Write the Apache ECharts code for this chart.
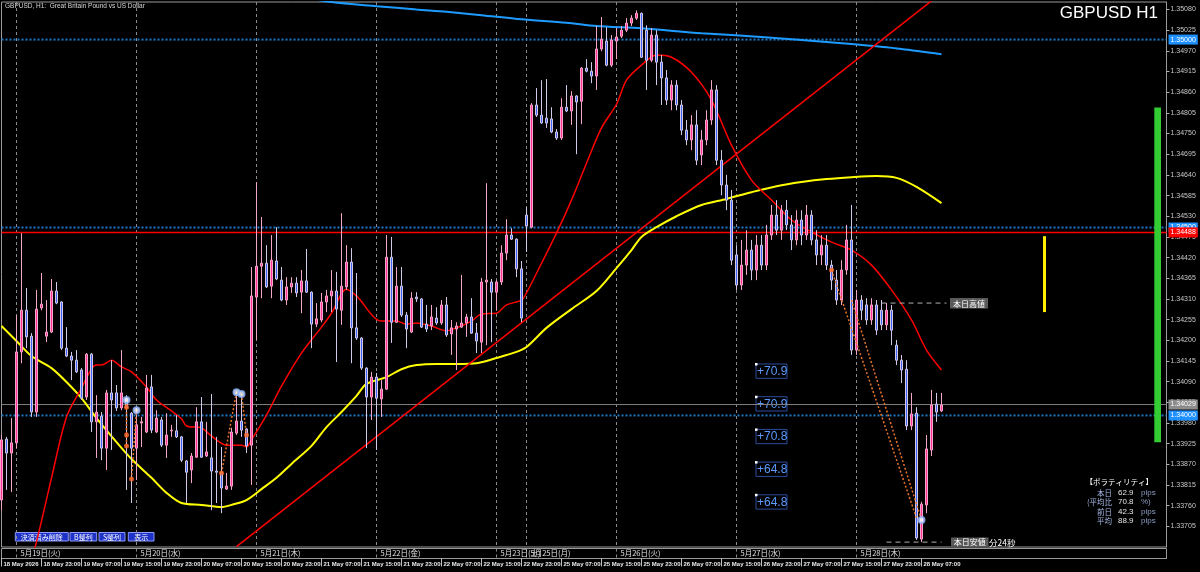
<!DOCTYPE html>
<html>
<head>
<meta charset="utf-8">
<title>GBPUSD H1</title>
<script src="https://cdn.jsdelivr.net/npm/echarts@6/dist/echarts.min.js"></script>
<style>
  html, body { margin: 0; padding: 0; background: #000; }
  #chart { width: 1200px; height: 572px; }
</style>
</head>
<body>
<div id="chart"></div>
<script>
// H1 bars from 18 May 15:00 to 28 May 11:00, each row: open, close, low, high
var candles = [
  [1.33775,1.33935,1.33748,1.33948],[1.33937,1.33900,1.33802,1.33943],[1.33900,1.33927,1.33796,1.33993],
  [1.33927,1.34169,1.33913,1.34267],[1.34169,1.34280,1.34139,1.34485],[1.34280,1.34209,1.34179,1.34339],
  [1.34211,1.34009,1.33996,1.34219],[1.34009,1.34283,1.33996,1.34334],[1.34286,1.34296,1.34280,1.34379],
  [1.34211,1.34222,1.34195,1.34307],[1.34222,1.34331,1.34219,1.34363],[1.34331,1.34299,1.34296,1.34355],
  [1.34302,1.34179,1.34174,1.34304],[1.34179,1.34158,1.34155,1.34235],[1.34158,1.34147,1.34094,1.34169],
  [1.34147,1.34116,1.34113,1.34174],[1.34121,1.34046,1.34041,1.34126],[1.34049,1.34163,1.34041,1.34166],
  [1.34163,1.33983,1.33956,1.34166],[1.33983,1.34009,1.33887,1.34054],[1.33998,1.33913,1.33881,1.34009],
  [1.33913,1.34060,1.33855,1.34068],[1.34060,1.34041,1.33908,1.34147],[1.34060,1.34020,1.34012,1.34081],
  [1.34020,1.34060,1.34014,1.34174],[1.34046,1.34020,1.33802,1.34054],[1.34006,1.33913,1.33767,1.34009],
  [1.33913,1.33975,1.33828,1.34020],[1.33980,1.33983,1.33916,1.33996],[1.33956,1.34073,1.33953,1.34108],
  [1.34076,1.33961,1.33953,1.34108],[1.33956,1.33993,1.33953,1.34014],[1.33988,1.33921,1.33916,1.33996],
  [1.33921,1.33948,1.33887,1.34006],[1.33959,1.33961,1.33943,1.33975],[1.33959,1.33943,1.33940,1.34001],
  [1.33943,1.33881,1.33876,1.33945],[1.33879,1.33849,1.33767,1.33881],[1.33855,1.33892,1.33820,1.33900],
  [1.33889,1.33983,1.33887,1.34022],[1.33983,1.33889,1.33887,1.34049],[1.33892,1.33903,1.33889,1.33983],
  [1.33887,1.33852,1.33748,1.34057],[1.33852,1.33849,1.33767,1.33943],[1.33849,1.33807,1.33740,1.33916],
  [1.33804,1.33812,1.33802,1.33847],[1.33812,1.33956,1.33802,1.33967],[1.33953,1.33985,1.33948,1.34062],
  [1.33985,1.33961,1.33943,1.34057],[1.33964,1.33919,1.33900,1.33966],[1.33921,1.34318,1.33815,1.34395],
  [1.34315,1.34397,1.34201,1.34621],[1.34397,1.34405,1.34312,1.34528],[1.34405,1.34342,1.34339,1.34453],
  [1.34344,1.34413,1.34312,1.34480],[1.34411,1.34363,1.34360,1.34501],[1.34360,1.34307,1.34304,1.34395],
  [1.34307,1.34342,1.34294,1.34368],[1.34342,1.34352,1.34326,1.34368],[1.34352,1.34326,1.34315,1.34368],
  [1.34328,1.34358,1.34272,1.34387],[1.34358,1.34328,1.34326,1.34443],[1.34328,1.34243,1.34179,1.34330],
  [1.34243,1.34257,1.34235,1.34299],[1.34254,1.34302,1.34248,1.34326],[1.34302,1.34318,1.34275,1.34334],
  [1.34318,1.34331,1.34275,1.34387],[1.34331,1.34283,1.34142,1.34382],[1.34280,1.34344,1.34241,1.34538],
  [1.34342,1.34408,1.34334,1.34453],[1.34408,1.34233,1.34139,1.34445],[1.34233,1.34206,1.34201,1.34379],
  [1.34206,1.34126,1.34121,1.34208],[1.34126,1.34049,1.33913,1.34128],[1.34049,1.34102,1.33988,1.34116],
  [1.34102,1.34046,1.33908,1.34113],[1.34044,1.34070,1.33996,1.34094],[1.34070,1.34421,1.34068,1.34480],
  [1.34421,1.34248,1.34193,1.34475],[1.34248,1.34344,1.34246,1.34395],[1.34344,1.34267,1.34262,1.34395],
  [1.34267,1.34230,1.34179,1.34275],[1.34222,1.34312,1.34219,1.34328],[1.34315,1.34310,1.34302,1.34328],
  [1.34310,1.34235,1.34233,1.34312],[1.34243,1.34230,1.34222,1.34294],[1.34238,1.34262,1.34227,1.34294],
  [1.34259,1.34246,1.34241,1.34288],[1.34246,1.34294,1.34241,1.34307],[1.34294,1.34214,1.34209,1.34315],
  [1.34217,1.34233,1.34161,1.34254],[1.34230,1.34238,1.34121,1.34248],[1.34235,1.34246,1.34233,1.34374],
  [1.34246,1.34262,1.34209,1.34270],[1.34262,1.34219,1.34217,1.34312],[1.34219,1.34198,1.34166,1.34246],
  [1.34195,1.34355,1.34166,1.34366],[1.34355,1.34360,1.34187,1.34618],[1.34355,1.34328,1.34195,1.34363],
  [1.34328,1.34355,1.34280,1.34360],[1.34355,1.34432,1.34347,1.34453],[1.34432,1.34480,1.34413,1.34522],
  [1.34480,1.34469,1.34467,1.34498],[1.34469,1.34390,1.34368,1.34471],[1.34390,1.34259,1.34248,1.34411],
  [1.34533,1.34504,1.34435,1.34554],[1.34501,1.34826,1.34498,1.34831],[1.34826,1.34799,1.34794,1.34871],
  [1.34799,1.34778,1.34776,1.34892],[1.34791,1.34778,1.34765,1.34895],[1.34789,1.34754,1.34751,1.34820],
  [1.34754,1.34738,1.34733,1.34762],[1.34738,1.34820,1.34733,1.34844],[1.34820,1.34810,1.34807,1.34879],
  [1.34810,1.34850,1.34773,1.34863],[1.34850,1.34834,1.34695,1.34852],[1.34836,1.34924,1.34775,1.34927],
  [1.34924,1.34916,1.34913,1.34948],[1.34916,1.34903,1.34884,1.34940],[1.34903,1.34975,1.34866,1.35036],
  [1.34975,1.35001,1.34969,1.35060],[1.34996,1.34932,1.34929,1.35033],[1.34932,1.34999,1.34927,1.35012],
  [1.34996,1.35007,1.34948,1.35031],[1.35009,1.35025,1.35004,1.35036],[1.35025,1.35044,1.35020,1.35057],
  [1.35044,1.35057,1.35036,1.35065],[1.35057,1.35070,1.35052,1.35078],[1.35070,1.34953,1.34951,1.35072],
  [1.35025,1.34945,1.34866,1.35038],[1.34945,1.35012,1.34940,1.35031],[1.35012,1.34940,1.34879,1.35025],
  [1.34940,1.34898,1.34826,1.34959],[1.34898,1.34839,1.34826,1.34919],[1.34839,1.34879,1.34812,1.34892],
  [1.34879,1.34826,1.34812,1.34892],[1.34826,1.34759,1.34746,1.34839],[1.34759,1.34733,1.34719,1.34786],
  [1.34733,1.34773,1.34706,1.34799],[1.34773,1.34679,1.34666,1.34812],[1.34693,1.34733,1.34666,1.34759],
  [1.34733,1.34786,1.34719,1.34812],[1.34786,1.34866,1.34773,1.34892],[1.34866,1.34679,1.34666,1.34879],
  [1.34679,1.34613,1.34586,1.34706],[1.34613,1.34573,1.34546,1.34640],[1.34573,1.34413,1.34400,1.34600],
  [1.34427,1.34347,1.34334,1.34453],[1.34347,1.34400,1.34334,1.34467],[1.34400,1.34440,1.34374,1.34493],
  [1.34440,1.34387,1.34360,1.34467],[1.34387,1.34453,1.34360,1.34480],[1.34453,1.34400,1.34387,1.34480],
  [1.34400,1.34480,1.34387,1.34507],[1.34480,1.34533,1.34467,1.34560],[1.34533,1.34493,1.34480,1.34573],
  [1.34493,1.34546,1.34467,1.34560],[1.34546,1.34507,1.34493,1.34573],[1.34507,1.34467,1.34440,1.34533],
  [1.34467,1.34520,1.34453,1.34546],[1.34520,1.34480,1.34453,1.34546],[1.34480,1.34533,1.34467,1.34560],
  [1.34533,1.34467,1.34453,1.34546],[1.34467,1.34427,1.34400,1.34493],[1.34427,1.34453,1.34400,1.34480],
  [1.34453,1.34400,1.34387,1.34480],[1.34400,1.34360,1.34334,1.34413],[1.34360,1.34307,1.34294,1.34387],
  [1.34307,1.34387,1.34294,1.34413],[1.34387,1.34467,1.34374,1.34507],[1.34467,1.34174,1.34161,1.34560],
  [1.34174,1.34307,1.34161,1.34334],[1.34307,1.34280,1.34254,1.34320],[1.34294,1.34254,1.34241,1.34312],
  [1.34254,1.34294,1.34241,1.34312],[1.34294,1.34227,1.34214,1.34307],[1.34280,1.34241,1.34227,1.34307],
  [1.34241,1.34280,1.34227,1.34299],[1.34280,1.34227,1.34187,1.34294],[1.34187,1.34147,1.34134,1.34201],
  [1.34147,1.34121,1.34086,1.34161],[1.34123,1.33972,1.33961,1.34147],[1.33972,1.34004,1.33961,1.34060],
  [1.34006,1.33674,1.33669,1.34022],[1.33671,1.33764,1.33663,1.33770],[1.33762,1.33911,1.33740,1.33948],
  [1.33908,1.34028,1.33892,1.34068],[1.34030,1.34009,1.33983,1.34060],[1.34012,1.34028,1.34009,1.34060]
];

// moving averages: [bar index, price]
var redMA = [
  [6,1.33610],[8,1.33719],[10,1.33834],[13,1.33996],[16,1.34073],[18,1.34124],[19,1.34134],[20,1.34134],
  [22,1.34147],[24,1.34129],[26,1.34116],[29,1.34076],[31,1.34041],[34,1.34012],[36,1.33991],[37,1.33972],
  [40,1.33967],[42,1.33945],[45,1.33921],[48,1.33921],[49,1.33916],[50,1.33935],[53,1.34001],[56,1.34078],
  [60,1.34166],[64,1.34235],[66,1.34272],[69,1.34336],[71,1.34318],[76,1.34251],[79,1.34251],[81,1.34243],
  [83,1.34246],[86,1.34238],[89,1.34225],[91,1.34233],[94,1.34251],[96,1.34270],[99,1.34272],[101,1.34294],
  [104,1.34307],[105,1.34326],[108,1.34405],[111,1.34485],[114,1.34573],[117,1.34671],[120,1.34765],
  [123,1.34828],[125,1.34892],[128,1.34932],[131,1.34959],[134,1.34953],[138,1.34913],[142,1.34839],
  [146,1.34719],[150,1.34626],[154,1.34573],[158,1.34520],[162,1.34488],[166,1.34461],[170,1.34440],
  [174,1.34400],[178,1.34334],[182,1.34254],[185,1.34174],[188,1.34121]
];
var yellowMA = [
  [0,1.34238],[3,1.34198],[6,1.34158],[10,1.34126],[13,1.34089],[16,1.34046],[19,1.33993],[23,1.33929],
  [26,1.33884],[30,1.33834],[33,1.33794],[36,1.33767],[40,1.33762],[44,1.33756],[46,1.33762],[49,1.33775],
  [52,1.33804],[55,1.33834],[58,1.33871],[62,1.33919],[65,1.33969],[68,1.34009],[71,1.34052],[73,1.34084],
  [77,1.34102],[80,1.34123],[83,1.34134],[87,1.34137],[91,1.34137],[95,1.34139],[99,1.34153],[103,1.34169],
  [105,1.34182],[109,1.34233],[114,1.34283],[119,1.34331],[123,1.34392],[126,1.34440],[128,1.34475],
  [131,1.34501],[135,1.34530],[140,1.34560],[145,1.34576],[150,1.34594],[155,1.34610],[160,1.34621],
  [165,1.34629],[170,1.34634],[175,1.34637],[179,1.34632],[183,1.34608],[188,1.34565]
];
var blueMA = [
  [60,1.35113],[66,1.35100],[75,1.35089],[83,1.35080],[89,1.35074],[96,1.35065],[104,1.35054],[113,1.35045],
  [119,1.35036],[128,1.35030],[140,1.35017],[152,1.35007],[160,1.34999],[170,1.34988],[180,1.34975],[188,1.34961]
];
var trendLine = [[47,1.33651],[186,1.35103]];

// closed trades (entry -> exit), dotted
var tradeLines = [
  [[25,1.34041],[25,1.33916]],
  [[26,1.33831],[27,1.34014]],
  [[44,1.33847],[47,1.34062]],
  [[48,1.34057],[49,1.33948]],
  [[166,1.34387],[183,1.33727]],
  [[170,1.34307],[184,1.33722]]
];
var tradeDots = [[25,1.34022],[25,1.33948],[25,1.33919],[26,1.33831],[44,1.33847],[49,1.33948],[166,1.34387]];
var tradeRings = [[25,1.34041],[27,1.34014],[47,1.34062],[48,1.34057],[184,1.33722]];

// horizontal levels
var levels = [
  { price: 1.35000, kind: 'blue', text: '1.35000' },
  { price: 1.34500, kind: 'blue', text: '1.34500' },
  { price: 1.34487, kind: 'red', text: '1.34488' },
  { price: 1.34029, kind: 'grey', text: '1.34029' },
  { price: 1.34000, kind: 'blue', text: '1.34000' }
];
var dayHigh = [[176,1.34299],[189,1.34299]];
var dayLow = [[177,1.33663],[188,1.33663]];

// volatility gauges: [bar index, low, high]
var avgRangeBar = [[231,1.33929,1.34819]];
var todayRangeBar = [[208,1.34275,1.34477]];

var dayMarks = [
  [3,'5月19日(火)'],[27,'5月20日(水)'],[51,'5月21日(木)'],[75,'5月22日(金)'],[99,'5月23日(土)'],
  [105,'5月25日(月)'],[123,'5月26日(火)'],[147,'5月27日(水)'],[171,'5月28日(木)']
];
var pipLabels = ['+70.9','+70.9','+70.8','+64.8','+64.8'];
var volaRows = [
  ['本日', '62.9', 'pips'],
  ['(平均比', '70.8', '%)'],
  ['前日', '42.3', 'pips'],
  ['平均', '88.9', 'pips']
];

// hourly categories, weekend skipped, padded with empty future slots
var tradeDays = [[18,'May'],[19,'May'],[20,'May'],[21,'May'],[22,'May'],[25,'May'],[26,'May'],[27,'May'],[28,'May'],[29,'May'],[1,'Jun']];
var slotCount = 234;
var categories = [];
for (var d = 0; d < tradeDays.length && categories.length < slotCount; d++) {
  for (var h = (d === 0 ? 15 : 0); h < 24 && categories.length < slotCount; h++) {
    categories.push(tradeDays[d][0] + ' ' + tradeDays[d][1] + ' ' + (h < 10 ? '0' + h : h) + ':00');
  }
}
var lastBar = candles.length - 1;
var dayIdx = dayMarks.map(function (m) { return m[0]; });
var dayText = {};
dayMarks.forEach(function (m) { dayText[m[0]] = m[1]; });

var levelStyle = {
  blue: { line: { color: '#1f78c8', width: 2, type: [2, 2] }, bg: '#1e90ff', fg: '#ffffff' },
  red: { line: { color: '#ff0000', width: 1.5, type: 'solid' }, bg: '#ff0000', fg: '#ffffff' },
  grey: { line: { color: '#808080', width: 1, type: 'solid' }, bg: '#8c8c8c', fg: '#ffffff' }
};

var chart = echarts.init(document.getElementById('chart'));

function gaugeSeries(data, color, off, w) {
  return {
    type: 'custom', xAxisIndex: 0, yAxisIndex: 0, silent: true, z: 3,
    data: data,
    renderItem: function (params, api) {
      var top = api.coord([api.value(0), api.value(2)]);
      var bot = api.coord([api.value(0), api.value(1)]);
      return { type: 'rect', shape: { x: top[0] + off, y: top[1], width: w, height: bot[1] - top[1] }, style: { fill: color } };
    }
  };
}

var series = [];
levels.forEach(function (lv) {
  var st = levelStyle[lv.kind];
  series.push({
    type: 'line', data: [[0, lv.price], [slotCount - 1, lv.price]], symbol: 'none', silent: true, z: 2,
    lineStyle: st.line,
    endLabel: { show: true, distance: 2, formatter: lv.text, backgroundColor: st.bg, color: st.fg,
      fontSize: 7, fontFamily: 'Liberation Sans', padding: [2, 2, 1, 2] }
  });
});
series.push(
  {
    type: 'candlestick', name: 'GBPUSD', data: candles, barWidth: 3, z: 5,
    itemStyle: { color: '#ff3399', color0: '#3d62f5', borderColor: '#f2a6c8', borderColor0: '#d2c8e6', borderWidth: 1 }
  },
  { type: 'line', data: blueMA, smooth: 0.3, symbol: 'none', lineStyle: { color: '#1e9bff', width: 2 }, z: 4 },
  { type: 'line', data: yellowMA, smooth: 0.3, symbol: 'none', lineStyle: { color: '#ffff00', width: 2 }, z: 4 },
  { type: 'line', data: redMA, smooth: 0.3, symbol: 'none', lineStyle: { color: '#ff0000', width: 1.5 }, z: 4 },
  { type: 'line', data: trendLine, symbol: 'none', lineStyle: { color: '#ff0000', width: 1.5 }, z: 4 },
  { type: 'line', data: dayHigh, symbol: 'none', lineStyle: { color: '#b0b0b0', width: 1, type: [5, 4] }, z: 4 },
  { type: 'line', data: dayLow, symbol: 'none', lineStyle: { color: '#b0b0b0', width: 1, type: [5, 4] }, z: 4 },
  { type: 'scatter', data: tradeDots, symbol: 'circle', symbolSize: 5, itemStyle: { color: '#ff6a2a' }, z: 7 },
  { type: 'scatter', data: tradeRings, symbol: 'emptyCircle', symbolSize: 6, itemStyle: { color: '#8fb4ff', borderWidth: 1.5 }, z: 7 },
  gaugeSeries(avgRangeBar, '#33cc33', -2.2, 6.7),
  gaugeSeries(todayRangeBar, '#ffee00', 1.5, 3)
);
tradeLines.forEach(function (seg) {
  series.push({ type: 'line', data: seg, symbol: 'none', lineStyle: { color: '#e8742a', width: 1.5, type: [2, 2] }, z: 6 });
});

var graphics = [
  { type: 'text', left: 5, top: 3, style: { text: 'GBPUSD, H1:  Great Britain Pound vs US Dollar', fill: '#d8d8d8', font: '6.5px "Liberation Sans"' } },
  { type: 'text', right: 42, top: 5, style: { text: 'GBPUSD H1', fill: '#ffffff', font: '17px "Liberation Sans"' } }
];
// trade buttons
[[15.3, 53, '決済済み削除'], [70, 26.7, 'B整列'], [99, 26, 'S整列'], [128.3, 25.7, '表示']].forEach(function (b) {
  graphics.push({ type: 'rect', shape: { x: b[0], y: 532.5, width: b[1], height: 8.5 }, style: { fill: '#1e32c8', stroke: '#8a9aff', lineWidth: 1 } });
  graphics.push({ type: 'text', x: b[0] + b[1] / 2, y: 537, style: { text: b[2], fill: '#ffffff', font: '7px "Noto Sans CJK JP"', align: 'center', verticalAlign: 'middle' } });
});
// pip labels
pipLabels.forEach(function (t, i) {
  var y = 364 + i * 32.7;
  graphics.push({ type: 'rect', shape: { x: 756, y: y, width: 31, height: 14.3 }, style: { fill: 'none', stroke: '#2c4c9c', lineWidth: 1 } });
  graphics.push({ type: 'rect', shape: { x: 755, y: y - 1, width: 2.5, height: 2.5 }, style: { fill: '#ffffff' } });
  graphics.push({ type: 'text', x: 757, y: y + 7.5, style: { text: t, fill: '#5b9bff', font: '12px "Liberation Sans"', verticalAlign: 'middle' } });
});
// day high / low tags
graphics.push({ type: 'rect', shape: { x: 950, y: 298, width: 38, height: 10.5 }, style: { fill: '#5a5a5a' } });
graphics.push({ type: 'text', x: 969, y: 303.5, style: { text: '本日高値', fill: '#ffffff', font: '8px "Noto Sans CJK JP"', align: 'center', verticalAlign: 'middle' } });
graphics.push({ type: 'rect', shape: { x: 951, y: 537.5, width: 37.5, height: 9 }, style: { fill: '#5a5a5a' } });
graphics.push({ type: 'text', x: 969.7, y: 542, style: { text: '本日安値', fill: '#ffffff', font: '8px "Noto Sans CJK JP"', align: 'center', verticalAlign: 'middle' } });
graphics.push({ type: 'text', x: 989, y: 542.5, style: { text: '分24秒', fill: '#ffffff', font: '8.5px "Noto Sans CJK JP"', verticalAlign: 'middle' } });
// volatility panel
graphics.push({ type: 'text', x: 1153, y: 482, style: { text: '【ボラティリティ】', fill: '#ffffff', font: '7.5px "Noto Sans CJK JP"', align: 'right', verticalAlign: 'middle' } });
volaRows.forEach(function (r, i) {
  var y = [493, 502, 512, 521][i];
  graphics.push({ type: 'text', x: 1112, y: y, style: { text: r[0], fill: '#a6b8e6', font: '7.5px "Noto Sans CJK JP"', align: 'right', verticalAlign: 'middle' } });
  graphics.push({ type: 'text', x: 1118, y: y, style: { text: r[1], fill: '#e6e6e6', font: '8px "Liberation Sans"', verticalAlign: 'middle' } });
  graphics.push({ type: 'text', x: 1141, y: y, style: { text: r[2], fill: '#8c9cc4', font: '8px "Liberation Sans"', verticalAlign: 'middle' } });
});

var option = {
  backgroundColor: '#000000',
  animation: false,
  grid: [
    { left: 1.5, right: 33.5, top: 2, bottom: 25, show: true, borderColor: '#9a9a9a', borderWidth: 1, backgroundColor: 'transparent' },
    { left: 1.5, right: 33.5, top: 548.5, height: 10, show: true, borderColor: '#9a9a9a', borderWidth: 1 }
  ],
  xAxis: [
    {
      type: 'category', gridIndex: 0, data: categories, boundaryGap: false,
      axisLine: { show: false }, axisTick: { show: false }, axisLabel: { show: false },
      splitLine: { show: true, interval: function (i) { return dayIdx.indexOf(i) >= 0; }, lineStyle: { color: '#8a8a8a', type: [3, 3], width: 1 } }
    },
    {
      type: 'category', gridIndex: 1, data: categories, boundaryGap: false, position: 'bottom',
      axisLine: { show: true, lineStyle: { color: '#9a9a9a' } },
      axisTick: { show: true, length: 8, interval: function (i) { return i % 8 === 0 && i <= lastBar; }, lineStyle: { color: '#c0c0c0' } },
      axisLabel: {
        show: true, interval: function (i) { return i % 8 === 0 && i <= lastBar; }, align: 'left', margin: 3,
        padding: [0, 0, 0, 2], color: '#ececec', fontSize: 6, fontWeight: 'bold', fontFamily: 'Liberation Sans',
        formatter: function (v, i) { return i === 0 ? '18 May 2026' : v; }
      },
      splitLine: { show: true, interval: function (i) { return dayIdx.indexOf(i) >= 0; }, lineStyle: { color: '#8a8a8a', type: [3, 3], width: 1 } }
    },
    {
      type: 'category', gridIndex: 1, data: categories, boundaryGap: false, position: 'top',
      axisLine: { show: false }, axisTick: { show: false }, splitLine: { show: false },
      axisLabel: {
        show: true, inside: true, margin: 1, interval: function (i) { return dayIdx.indexOf(i) >= 0; },
        align: 'left', verticalAlign: 'top', padding: [0, 0, 0, 4], color: '#e0e0e0', fontSize: 7.5,
        fontFamily: 'Noto Sans CJK JP', formatter: function (v, i) { return dayText[i] || ''; }
      }
    }
  ],
  yAxis: [
    {
      type: 'value', gridIndex: 0, position: 'right', min: 1.3365, max: 1.351, interval: 0.00055, scale: true,
      axisLine: { show: true, lineStyle: { color: '#9a9a9a' } },
      axisTick: { show: true, length: 3, lineStyle: { color: '#b0b0b0' } },
      splitLine: { show: false },
      axisLabel: { show: true, margin: 4, color: '#c8c8c8', fontSize: 7, fontFamily: 'Liberation Sans',
        showMinLabel: false, showMaxLabel: false, formatter: function (v) { return v.toFixed(5); } }
    },
    { type: 'value', gridIndex: 1, min: 0, max: 1, show: false }
  ],
  series: series,
  graphic: graphics
};
chart.setOption(option);
</script>
</body>
</html>
